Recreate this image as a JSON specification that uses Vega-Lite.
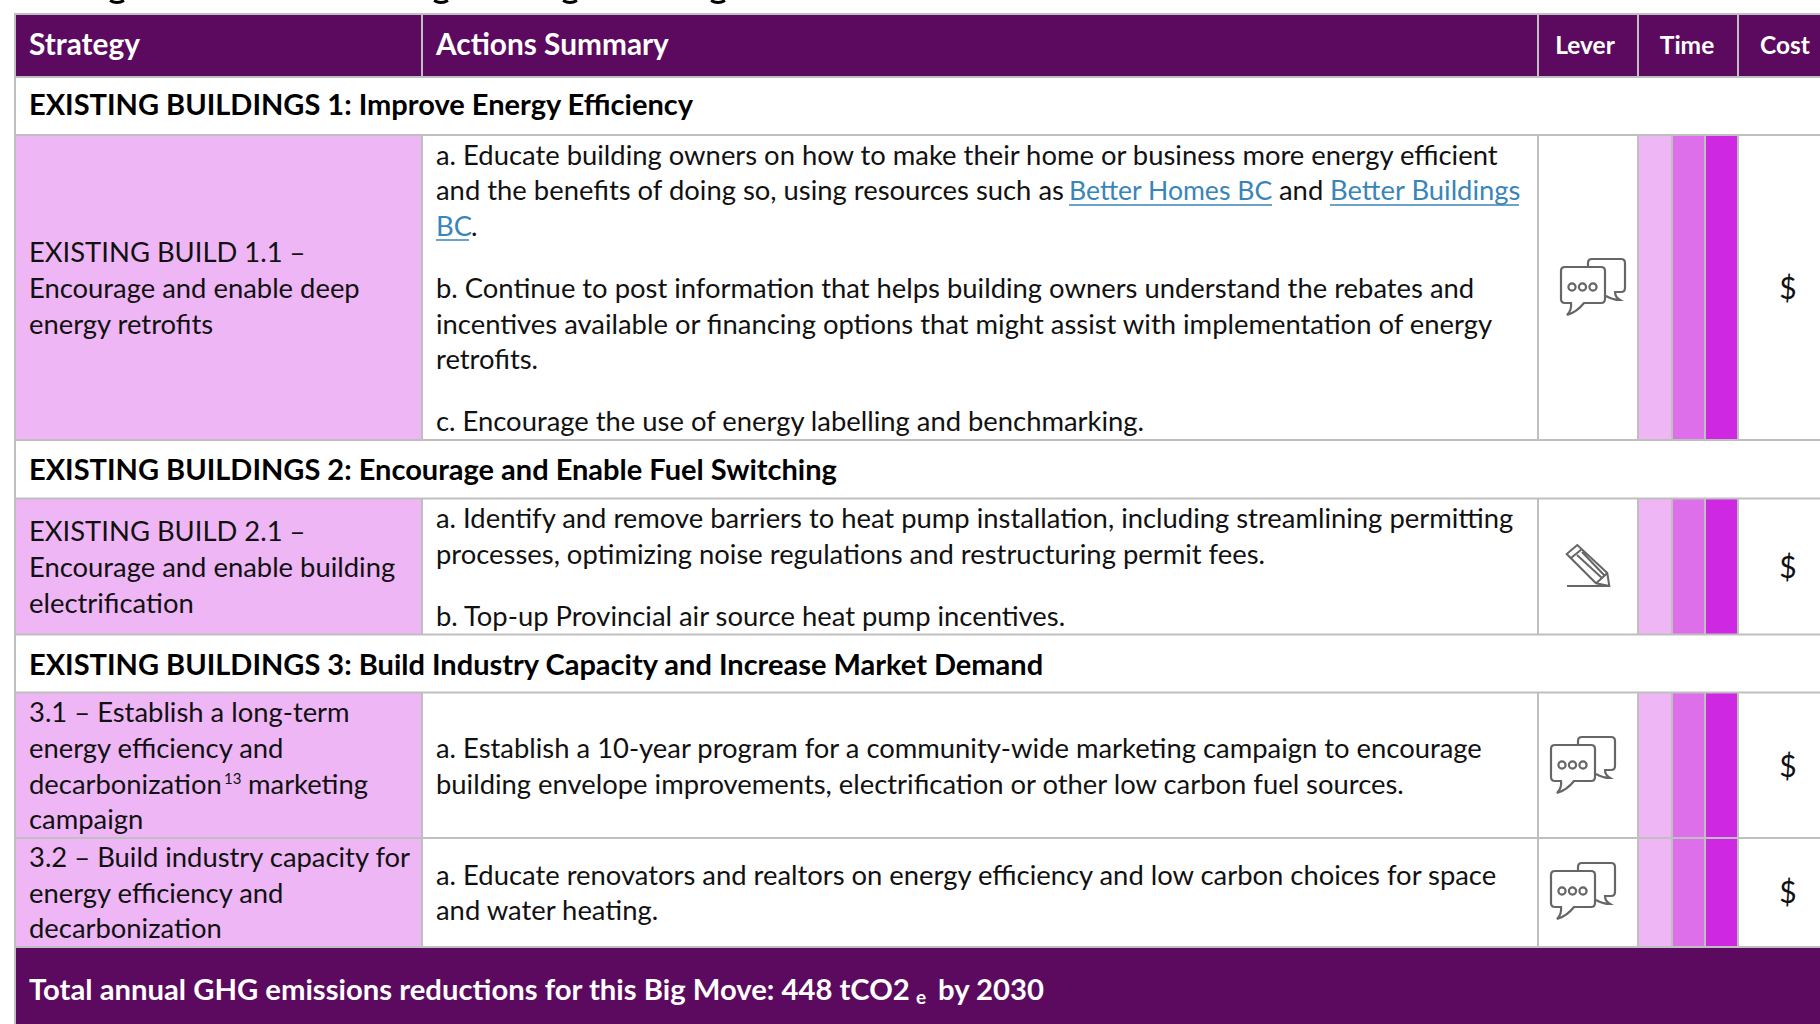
{"$schema":"https://vega.github.io/schema/vega-lite/v6.json","autosize":{"type":"none"},"width":1820,"height":1024,"padding":0,"background":"#ffffff","config":{"view":{"stroke":null},"axis":{"grid":false}},
"datasets":{
"cells":[
{"region":"header","left":14,"right":1820,"top":14,"bottom":77},
{"region":"footer","left":14,"right":1820,"top":947,"bottom":1024},
{"region":"strategy","left":15,"right":422,"top":135,"bottom":440},
{"region":"strategy","left":15,"right":422,"top":498.5,"bottom":634.5},
{"region":"strategy","left":15,"right":422,"top":692.5,"bottom":838},
{"region":"strategy","left":15,"right":422,"top":838,"bottom":947},
{"region":"time1","left":1638,"right":1672,"top":135,"bottom":440},
{"region":"time2","left":1672,"right":1705,"top":135,"bottom":440},
{"region":"time3","left":1705,"right":1738,"top":135,"bottom":440},
{"region":"time1","left":1638,"right":1672,"top":498.5,"bottom":634.5},
{"region":"time2","left":1672,"right":1705,"top":498.5,"bottom":634.5},
{"region":"time3","left":1705,"right":1738,"top":498.5,"bottom":634.5},
{"region":"time1","left":1638,"right":1672,"top":692.5,"bottom":838},
{"region":"time2","left":1672,"right":1705,"top":692.5,"bottom":838},
{"region":"time3","left":1705,"right":1738,"top":692.5,"bottom":838},
{"region":"time1","left":1638,"right":1672,"top":838,"bottom":947},
{"region":"time2","left":1672,"right":1705,"top":838,"bottom":947},
{"region":"time3","left":1705,"right":1738,"top":838,"bottom":947}
],
"hrules":[
{"left":14,"right":1820,"at":14},{"left":14,"right":1820,"at":77},{"left":14,"right":1820,"at":135},{"left":14,"right":1820,"at":440},{"left":14,"right":1820,"at":498.5},{"left":14,"right":1820,"at":634.5},{"left":14,"right":1820,"at":692.5},{"left":14,"right":1820,"at":838},{"left":14,"right":1820,"at":947}
],
"vrules":[
{"at":15,"top":14,"bottom":1024},
{"at":422,"top":14,"bottom":77},{"at":1538,"top":14,"bottom":77},{"at":1638,"top":14,"bottom":77},{"at":1738,"top":14,"bottom":77},
{"at":422,"top":135,"bottom":440},{"at":1538,"top":135,"bottom":440},{"at":1638,"top":135,"bottom":440},{"at":1672,"top":135,"bottom":440},{"at":1705,"top":135,"bottom":440},{"at":1738,"top":135,"bottom":440},
{"at":422,"top":498.5,"bottom":634.5},{"at":1538,"top":498.5,"bottom":634.5},{"at":1638,"top":498.5,"bottom":634.5},{"at":1672,"top":498.5,"bottom":634.5},{"at":1705,"top":498.5,"bottom":634.5},{"at":1738,"top":498.5,"bottom":634.5},
{"at":422,"top":692.5,"bottom":947},{"at":1538,"top":692.5,"bottom":947},{"at":1638,"top":692.5,"bottom":947},{"at":1672,"top":692.5,"bottom":947},{"at":1705,"top":692.5,"bottom":947},{"at":1738,"top":692.5,"bottom":947}
],
"links":[{"left":1069,"right":1272,"at":205},{"left":1330,"right":1519,"at":205},{"left":436,"right":469,"at":240}],
"titleRemnants":[{"x":117,"y":1.5},{"x":441,"y":1.5},{"x":570,"y":1.5},{"x":718,"y":1.5}],
"bold":[
{"role":"header","t":"Strategy","x":29,"y":55},
{"role":"header","t":"Actions Summary","x":436,"y":55},
{"role":"section","t":"EXISTING BUILDINGS 1: Improve Energy Efficiency","x":29,"y":115},
{"role":"section","t":"EXISTING BUILDINGS 2: Encourage and Enable Fuel Switching","x":29,"y":480},
{"role":"section","t":"EXISTING BUILDINGS 3: Build Industry Capacity and Increase Market Demand","x":29,"y":675},
{"role":"footer","t":"Total annual GHG emissions reductions for this Big Move: 448 tCO2","x":29,"y":1000},
{"role":"sub","t":"e","x":916,"y":1004},
{"role":"footer","t":"by 2030","x":938,"y":1000}
],
"boldCentered":[
{"t":"Lever","x":1585,"y":54},{"t":"Time","x":1687,"y":54},{"t":"Cost","x":1785,"y":54}
],
"regular":[
{"role":"body","t":"EXISTING BUILD 1.1 –","x":29,"y":262},
{"role":"body","t":"Encourage and enable deep","x":29,"y":298},
{"role":"body","t":"energy retrofits","x":29,"y":334},
{"role":"body","t":"a. Educate building owners on how to make their home or business more energy efficient","x":436,"y":164.5},
{"role":"body","t":"and the benefits of doing so, using resources such as","x":436,"y":200},
{"role":"linkA","t":"Better Homes BC","x":1069,"y":200},
{"role":"body","t":"and","x":1279,"y":200},
{"role":"link","t":"Better Buildings","x":1330,"y":200},
{"role":"link","t":"BC","x":436,"y":236},
{"role":"body","t":".","x":471,"y":236},
{"role":"body","t":"b. Continue to post information that helps building owners understand the rebates and","x":436,"y":298},
{"role":"body","t":"incentives available or financing options that might assist with implementation of energy","x":436,"y":334},
{"role":"body","t":"retrofits.","x":436,"y":369},
{"role":"body","t":"c. Encourage the use of energy labelling and benchmarking.","x":436,"y":431},
{"role":"body","t":"EXISTING BUILD 2.1 –","x":29,"y":541},
{"role":"body","t":"Encourage and enable building","x":29,"y":577},
{"role":"body","t":"electrification","x":29,"y":613},
{"role":"body","t":"a. Identify and remove barriers to heat pump installation, including streamlining permitting","x":436,"y":528},
{"role":"body","t":"processes, optimizing noise regulations and restructuring permit fees.","x":436,"y":564},
{"role":"body","t":"b. Top-up Provincial air source heat pump incentives.","x":436,"y":626},
{"role":"body","t":"3.1 – Establish a long-term","x":29,"y":722},
{"role":"body","t":"energy efficiency and","x":29,"y":758},
{"role":"body","t":"decarbonization","x":29,"y":794},
{"role":"sup","t":"13","x":224,"y":784},
{"role":"body","t":"marketing","x":248,"y":794},
{"role":"body","t":"campaign","x":29,"y":829},
{"role":"body","t":"3.2 – Build industry capacity for","x":29,"y":867},
{"role":"body","t":"energy efficiency and","x":29,"y":903},
{"role":"body","t":"decarbonization","x":29,"y":938},
{"role":"body","t":"a. Establish a 10-year program for a community-wide marketing campaign to encourage","x":436,"y":758},
{"role":"body","t":"building envelope improvements, electrification or other low carbon fuel sources.","x":436,"y":794},
{"role":"body","t":"a. Educate renovators and realtors on energy efficiency and low carbon choices for space","x":436,"y":885},
{"role":"body","t":"and water heating.","x":436,"y":920}
],
"cost":[{"t":"$","x":1788,"y":299},{"t":"$","x":1788,"y":578},{"t":"$","x":1788,"y":777},{"t":"$","x":1788,"y":903}],
"bubbles":[{"x":1593,"y":287},{"x":1583,"y":765},{"x":1583,"y":891}],
"pencils":[{"x":1588,"y":566}]
},
"layer":[
{"data":{"name":"cells"},"mark":{"type":"rect"},"encoding":{
"x":{"field":"left","type":"quantitative","scale":{"domain":[0,1820],"nice":false,"zero":false},"axis":null},"x2":{"field":"right"},
"y":{"field":"top","type":"quantitative","scale":{"domain":[1024,0],"nice":false,"zero":false},"axis":null},"y2":{"field":"bottom"},
"color":{"field":"region","type":"nominal","legend":null,"scale":{"domain":["header","footer","strategy","time1","time2","time3"],"range":["#5c0a60","#5c0a60","#eeb6f5","#eeb6f5","#dd70ea","#cf28e2"]}}}},
{"data":{"name":"hrules"},"mark":{"type":"rule","color":"#bfbfbf","strokeWidth":2},"encoding":{
"x":{"field":"left","type":"quantitative"},"x2":{"field":"right"},"y":{"field":"at","type":"quantitative"}}},
{"data":{"name":"vrules"},"mark":{"type":"rule","color":"#bfbfbf","strokeWidth":2},"encoding":{
"x":{"field":"at","type":"quantitative"},"y":{"field":"top","type":"quantitative"},"y2":{"field":"bottom"}}},
{"data":{"name":"links"},"mark":{"type":"rule","color":"#3a85b8","strokeWidth":1.6},"encoding":{
"x":{"field":"left","type":"quantitative"},"x2":{"field":"right"},"y":{"field":"at","type":"quantitative"}}},
{"data":{"name":"titleRemnants"},"mark":{"type":"point","filled":false,"stroke":"#000000","strokeWidth":3,"opacity":1,"size":4,"shape":"M-7,-1 Q0,3 7,-1"},"encoding":{
"x":{"field":"x","type":"quantitative"},"y":{"field":"y","type":"quantitative"}}},
{"data":{"name":"bold"},"mark":{"type":"text","font":"Lato","fontWeight":700,"align":"left","baseline":"alphabetic"},"encoding":{
"x":{"field":"x","type":"quantitative"},"y":{"field":"y","type":"quantitative"},"text":{"field":"t"},
"size":{"field":"role","type":"nominal","legend":null,"scale":{"type":"ordinal","domain":["header","section","footer","sub"],"range":[29.8,29,29.25,19]}},
"color":{"field":"role","type":"nominal","legend":null,"scale":{"domain":["header","section","footer","sub"],"range":["#ffffff","#000000","#ffffff","#ffffff"]}}}},
{"data":{"name":"boldCentered"},"mark":{"type":"text","font":"Lato","fontWeight":700,"align":"center","baseline":"alphabetic","size":24.5,"color":"#ffffff"},"encoding":{
"x":{"field":"x","type":"quantitative"},"y":{"field":"y","type":"quantitative"},"text":{"field":"t"}}},
{"data":{"name":"regular"},"mark":{"type":"text","font":"Lato","align":"left","baseline":"alphabetic"},"encoding":{
"x":{"field":"x","type":"quantitative"},"y":{"field":"y","type":"quantitative"},"text":{"field":"t"},
"size":{"field":"role","type":"nominal","legend":null,"scale":{"type":"ordinal","domain":["body","link","linkA","sup"],"range":[27.4,27.4,26.6,15]}},
"color":{"field":"role","type":"nominal","legend":null,"scale":{"domain":["body","link","linkA","sup"],"range":["#111111","#3a85b8","#3a85b8","#111111"]}}}},
{"data":{"name":"cost"},"mark":{"type":"text","font":"Lato","align":"center","baseline":"alphabetic","size":30,"color":"#111111"},"encoding":{
"x":{"field":"x","type":"quantitative"},"y":{"field":"y","type":"quantitative"},"text":{"field":"t"}}},
{"data":{"name":"bubbles"},"mark":{"type":"point","filled":false,"stroke":"#666666","strokeWidth":2.2,"opacity":1,"size":4,"shape":"M-28,-20 H8 Q12,-20 12,-16 V12 Q12,16 8,16 H-9 Q-16,25 -26,28 Q-21,23 -22,16 H-28 Q-32,16 -32,12 V-16 Q-32,-20 -28,-20 Z M-5,-20 V-24 Q-5,-28 -1,-28 H28 Q32,-28 32,-24 V1 Q32,5 28,5 H22 Q22,10 27,13 Q20,13 13,9 M-21,-3.6 A3.6,3.6 0 1 0 -20.99,-3.6 Z M-10.5,-3.6 A3.6,3.6 0 1 0 -10.49,-3.6 Z M0,-3.6 A3.6,3.6 0 1 0 0.01,-3.6 Z"},"encoding":{
"x":{"field":"x","type":"quantitative"},"y":{"field":"y","type":"quantitative"}}},
{"data":{"name":"pencils"},"mark":{"type":"point","filled":false,"stroke":"#666666","strokeWidth":2,"opacity":1,"size":4,"shape":"M-10.7,-21 L-21.3,-12 L8,17.3 L21.3,20 L19.3,7 Z M-6,-17 L-17,-8 M-11,-11 L14,12 M-6,-14 L16,9 M8,17.3 L14,12 L19.3,7 M-21,20 H21"},"encoding":{
"x":{"field":"x","type":"quantitative"},"y":{"field":"y","type":"quantitative"}}}
],
"resolve":{"scale":{"color":"independent","size":"independent"}}
}
